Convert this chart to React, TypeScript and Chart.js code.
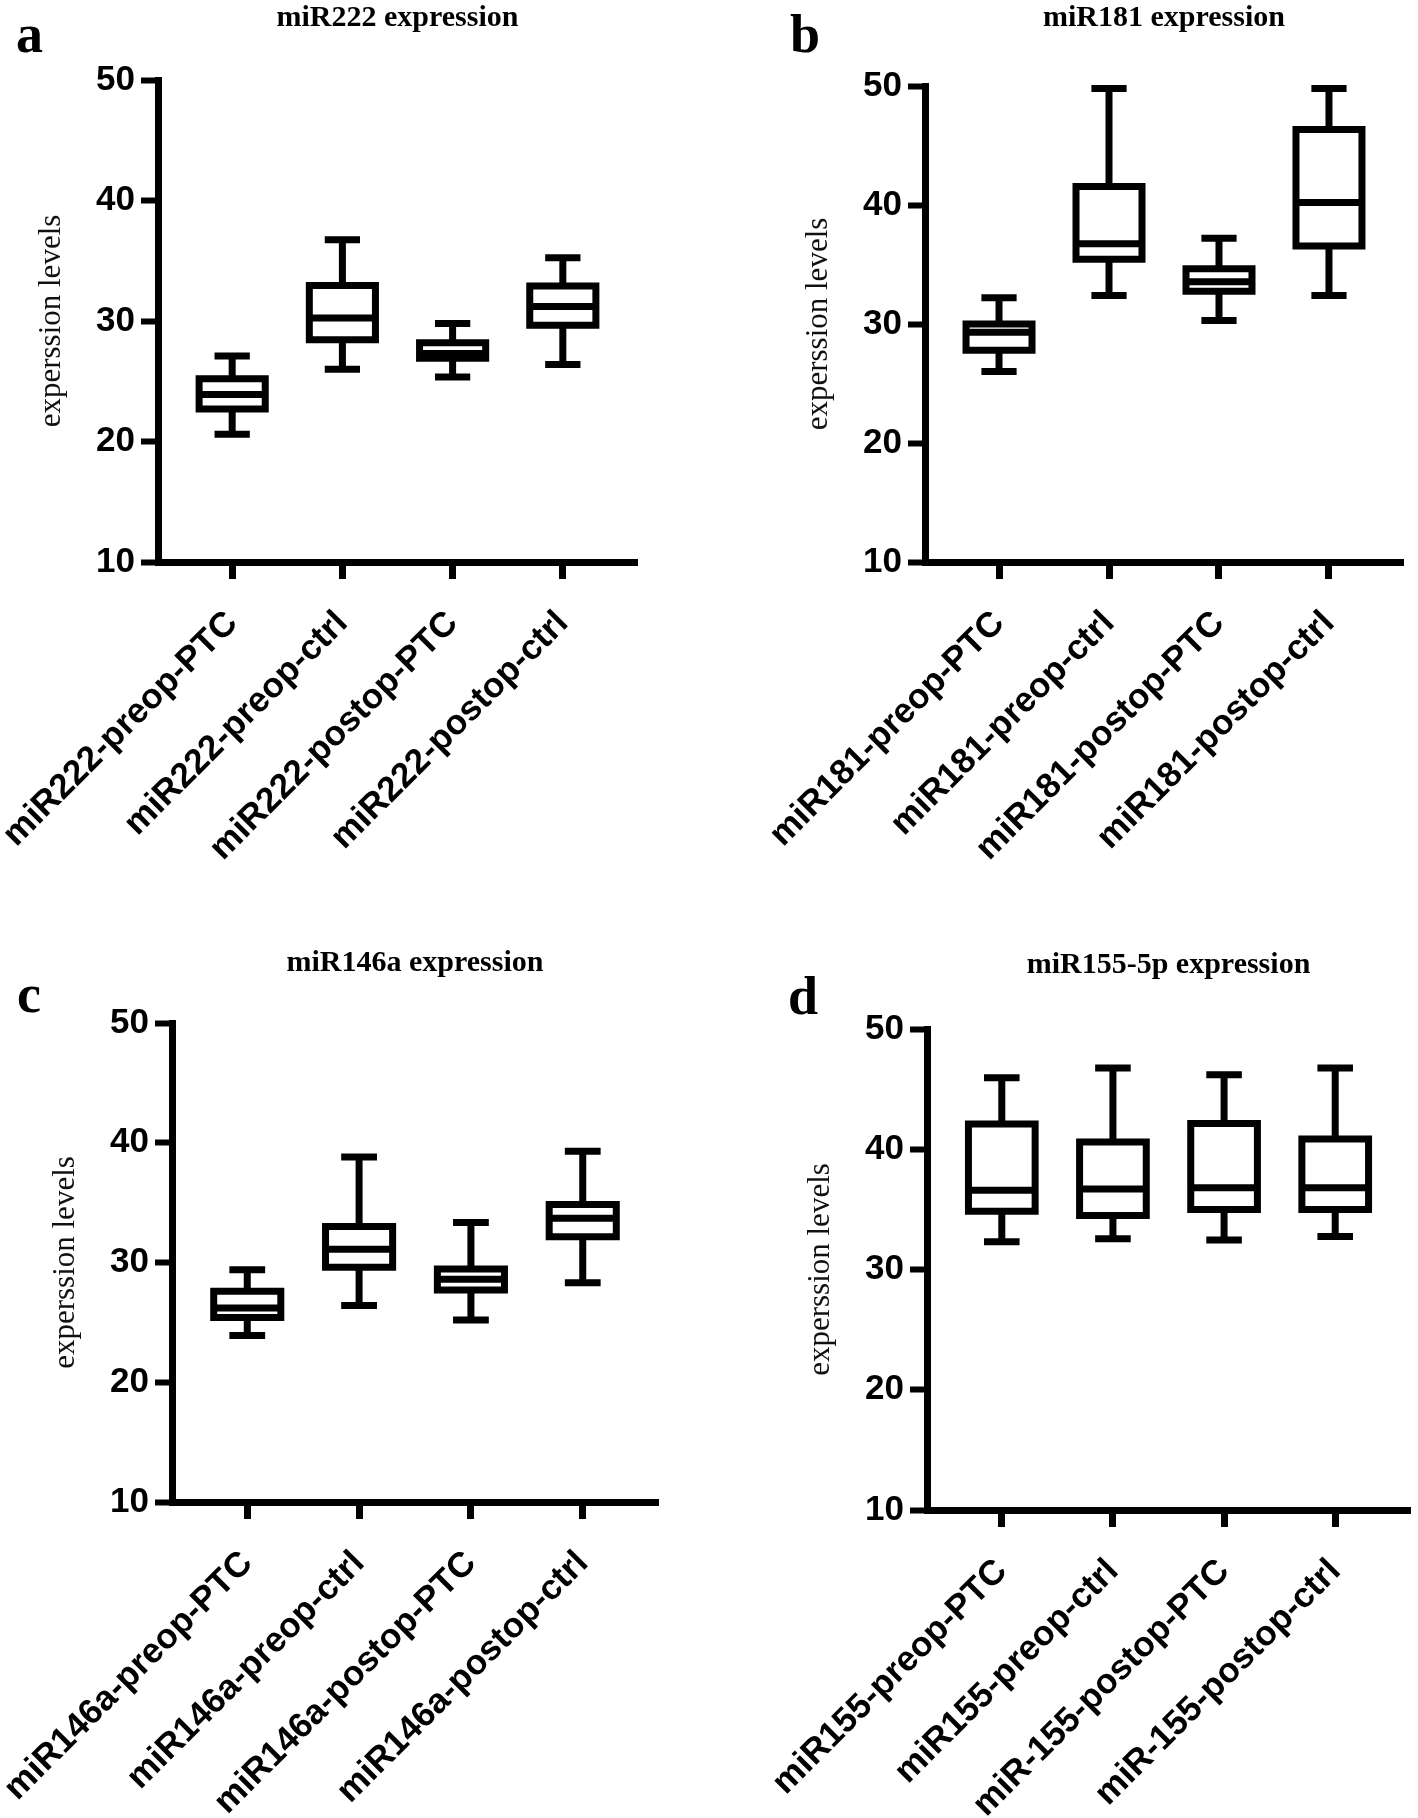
import React, { useEffect, useRef } from "react";
import { Chart, registerables } from "chart.js";

Chart.register(...registerables);

const SERIF = "'Liberation Serif', 'Times New Roman', Times, serif";
const SANS = "'Liberation Sans', Arial, Helvetica, sans-serif";

// ---------- data ----------
const labelsA = ["miR222-preop-PTC", "miR222-preop-ctrl", "miR222-postop-PTC", "miR222-postop-ctrl"];
const minA = [20.6, 26.0, 25.35, 26.4];
const q1A = [22.7, 28.45, 26.9, 29.65];
const medA = [23.9, 30.25, 27.3, 31.2];
const q3A = [25.2, 32.95, 28.2, 32.9];
const maxA = [27.1, 36.75, 29.8, 35.25];

const labelsB = ["miR181-preop-PTC", "miR181-preop-ctrl", "miR181-postop-PTC", "miR181-postop-ctrl"];
const minB = [26.0, 32.4, 30.3, 32.4];
const q1B = [27.8, 35.45, 32.75, 36.55];
const medB = [29.3, 36.75, 33.55, 40.2];
const q3B = [30.0, 41.55, 34.65, 46.35];
const maxB = [32.2, 49.8, 37.2, 49.8];

const labelsC = ["miR146a-preop-PTC", "miR146a-preop-ctrl", "miR146a-postop-PTC", "miR146a-postop-ctrl"];
const minC = [23.9, 26.4, 25.2, 28.3];
const q1C = [25.4, 29.6, 27.7, 32.15];
const medC = [26.2, 31.1, 28.6, 33.7];
const q3C = [27.6, 33.0, 29.45, 34.85];
const maxC = [29.4, 38.8, 33.35, 39.3];

const labelsD = ["miR155-preop-PTC", "miR155-preop-ctrl", "miR-155-postop-PTC", "miR-155-postop-ctrl"];
const minD = [32.3, 32.55, 32.45, 32.75];
const q1D = [34.85, 34.5, 35.0, 35.0];
const medD = [36.6, 36.7, 36.8, 36.8];
const q3D = [42.1, 40.6, 42.15, 40.85];
const maxD = [45.95, 46.75, 46.2, 46.75];

const yTickValues = [10, 20, 30, 40, 50];
const yAxisTitle = "experssion levels";

// ---------- layout / style ----------
const CANVAS_W = 709;
const CANVAS_H = 909;
const BOX_HALF = 0.3;
const CAP_HALF = 0.16;
const LINE_W = 7;
const X_MIN = 0.327;
const X_MAX = 4.673;
const TITLE_SIZE = 30;
const LETTER_SIZE = 54;

interface PanelDef {
  letter: string;
  title: string;
  labels: string[];
  mins: number[];
  q1s: number[];
  meds: number[];
  q3s: number[];
  maxs: number[];
  left: number;
  top: number;
  area: { left: number; right: number; top: number; bottom: number };
  titleY: number;
  letterX: number;
  letterY: number;
}

const panels: PanelDef[] = [
  {
    letter: "a", title: "miR222 expression", labels: labelsA,
    mins: minA, q1s: q1A, meds: medA, q3s: q3A, maxs: maxA,
    left: 0, top: 0, area: { left: 158, right: 637, top: 80, bottom: 562 },
    titleY: 18, letterX: 16, letterY: 7,
  },
  {
    letter: "b", title: "miR181 expression", labels: labelsB,
    mins: minB, q1s: q1B, meds: medB, q3s: q3B, maxs: maxB,
    left: 709, top: 0, area: { left: 216, right: 694, top: 86, bottom: 562 },
    titleY: 18, letterX: 790, letterY: 7,
  },
  {
    letter: "c", title: "miR146a expression", labels: labelsC,
    mins: minC, q1s: q1C, meds: medC, q3s: q3C, maxs: maxC,
    left: 0, top: 909, area: { left: 172, right: 658, top: 114, bottom: 593 },
    titleY: 54, letterX: 17, letterY: 967,
  },
  {
    letter: "d", title: "miR155-5p expression", labels: labelsD,
    mins: minD, q1s: q1D, meds: medD, q3s: q3D, maxs: maxD,
    left: 709, top: 909, area: { left: 218, right: 701, top: 120, bottom: 601 },
    titleY: 56, letterX: 788, letterY: 969,
  },
];

function buildBoxData(p: PanelDef) {
  const pts: { x: number; y: number | null }[] = [];
  p.labels.forEach((_, i) => {
    const x = i + 1;
    const gap = () => pts.push({ x, y: null });
    // box outline (first edge repeated so the start corner is mitred)
    pts.push(
      { x: x - BOX_HALF, y: p.q1s[i] },
      { x: x + BOX_HALF, y: p.q1s[i] },
      { x: x + BOX_HALF, y: p.q3s[i] },
      { x: x - BOX_HALF, y: p.q3s[i] },
      { x: x - BOX_HALF, y: p.q1s[i] },
      { x: x + BOX_HALF, y: p.q1s[i] }
    );
    gap();
    // median
    pts.push({ x: x - BOX_HALF, y: p.meds[i] }, { x: x + BOX_HALF, y: p.meds[i] });
    gap();
    // upper whisker + cap
    pts.push({ x, y: p.q3s[i] }, { x, y: p.maxs[i] });
    gap();
    pts.push({ x: x - CAP_HALF, y: p.maxs[i] }, { x: x + CAP_HALF, y: p.maxs[i] });
    gap();
    // lower whisker + cap
    pts.push({ x, y: p.q1s[i] }, { x, y: p.mins[i] });
    gap();
    pts.push({ x: x - CAP_HALF, y: p.mins[i] }, { x: x + CAP_HALF, y: p.mins[i] });
    gap();
  });
  return pts;
}

function PanelChart({ p }: { p: PanelDef }) {
  const ref = useRef<HTMLCanvasElement>(null);
  useEffect(() => {
    const a = p.area;
    const titlePadTop = p.titleY - TITLE_SIZE / 2;
    const titlePadBottom = a.top - titlePadTop - TITLE_SIZE;
    const yTitleSize = 31;
    const chart = new Chart(ref.current as HTMLCanvasElement, {
      type: "line",
      data: {
        datasets: [
          {
            data: buildBoxData(p) as any,
            borderColor: "#000",
            backgroundColor: "#000",
            borderWidth: LINE_W,
            pointRadius: 0,
            pointHoverRadius: 0,
            fill: false,
            tension: 0,
            spanGaps: false,
            borderCapStyle: "butt",
            borderJoinStyle: "miter",
            clip: false as any,
          },
        ],
      },
      options: {
        responsive: false,
        animation: false,
        devicePixelRatio: 1,
        events: [],
        layout: { padding: { left: 0, top: 0, right: CANVAS_W - a.right, bottom: 0 } },
        plugins: {
          legend: { display: false },
          tooltip: { enabled: false },
          title: {
            display: true,
            text: p.title,
            fullSize: false,
            color: "#000",
            font: { family: SERIF, weight: "bold", size: TITLE_SIZE, lineHeight: 1 },
            padding: { top: titlePadTop, bottom: titlePadBottom },
          } as any,
        },
        scales: {
          x: {
            type: "linear",
            min: X_MIN,
            max: X_MAX,
            afterBuildTicks: (s: any) => {
              s.ticks = p.labels.map((_, i) => ({ value: i + 1 }));
            },
            afterFit: (s: any) => {
              s.height = CANVAS_H - a.bottom;
              s.paddingLeft = 0;
              s.paddingRight = 0;
            },
            ticks: {
              autoSkip: false,
              minRotation: 45,
              maxRotation: 45,
              padding: 24,
              color: "#000",
              font: { family: SANS, weight: "bold", size: 35 },
              callback: (v: any) => p.labels[Math.round(Number(v)) - 1] ?? "",
            },
            grid: {
              display: true,
              drawOnChartArea: false,
              drawTicks: true,
              tickLength: 17,
              tickWidth: 7,
              tickColor: "#000",
            },
            border: { display: true, color: "#000", width: LINE_W },
          },
          y: {
            type: "linear",
            min: 10,
            max: 50,
            afterBuildTicks: (s: any) => {
              s.ticks = yTickValues.map((v) => ({ value: v }));
            },
            afterFit: (s: any) => {
              s.width = a.left;
              s.paddingTop = 0;
              s.paddingBottom = 0;
            },
            ticks: {
              padding: 6,
              color: "#000",
              font: { family: SANS, weight: "bold", size: 35 },
            },
            grid: {
              display: true,
              drawOnChartArea: false,
              drawTicks: true,
              tickLength: 17,
              tickWidth: 6,
              tickColor: "#000",
            },
            border: { display: true, color: "#000", width: LINE_W },
            title: {
              display: true,
              text: yAxisTitle,
              color: "#111",
              font: { family: SERIF, size: yTitleSize, lineHeight: 1 },
              padding: { top: a.left - 106 - yTitleSize / 2, bottom: 0 },
            },
          },
        },
      } as any,
    });
    return () => chart.destroy();
  }, [p]);
  return (
    <canvas
      ref={ref}
      width={CANVAS_W}
      height={CANVAS_H}
      style={{ position: "absolute", left: p.left, top: p.top, width: CANVAS_W, height: CANVAS_H, display: "block" }}
    />
  );
}

export default function App() {
  return (
    <div style={{ position: "absolute", left: 0, top: 0, width: 1418, height: 1818, background: "#fff", overflow: "hidden" }}>
      {panels.map((p) => (
        <PanelChart key={p.letter} p={p} />
      ))}
      {panels.map((p) => (
        <div
          key={"l" + p.letter}
          style={{
            position: "absolute",
            left: p.letterX,
            top: p.letterY,
            fontFamily: SERIF,
            fontWeight: "bold",
            fontSize: LETTER_SIZE,
            lineHeight: LETTER_SIZE + "px",
            color: "#000",
          }}
        >
          {p.letter}
        </div>
      ))}
    </div>
  );
}
